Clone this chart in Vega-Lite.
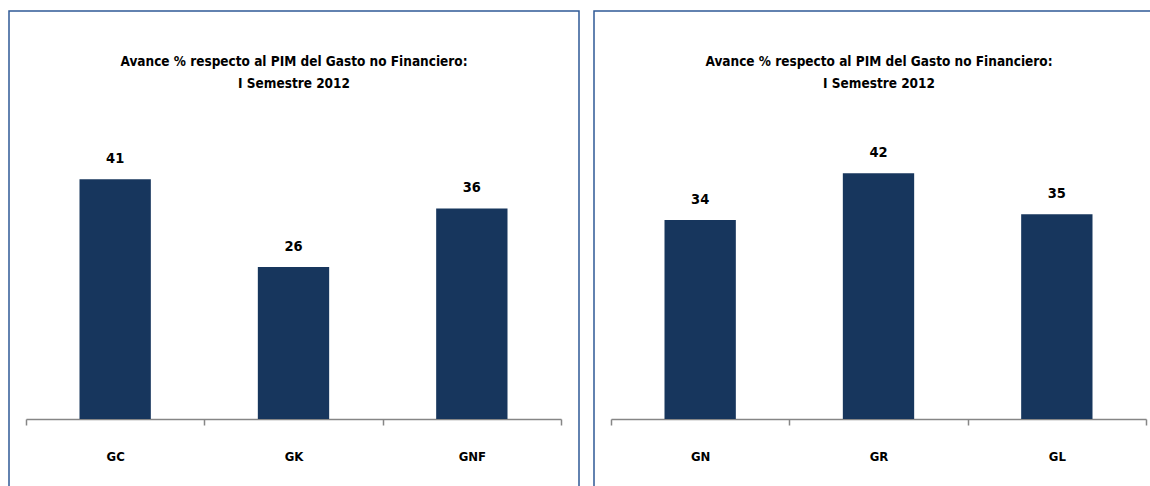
{
  "$schema": "https://vega.github.io/schema/vega-lite/v6.json",
  "padding": {"left": 8, "top": 10, "right": 0, "bottom": 0},
  "background": "white",
  "spacing": 13,
  "datasets": {
    "left": [
      {"grupo": "GC", "avance": 41},
      {"grupo": "GK", "avance": 26},
      {"grupo": "GNF", "avance": 36}
    ],
    "right": [
      {"grupo": "GN", "avance": 34},
      {"grupo": "GR", "avance": 42},
      {"grupo": "GL", "avance": 35}
    ]
  },
  "config": {
    "font": "DejaVu Sans Condensed, sans-serif",
    "view": {"stroke": "#2f5a96", "strokeWidth": 1.5},
    "title": {
      "font": "DejaVu Sans Condensed, sans-serif",
      "fontSize": 13.5,
      "fontWeight": "bold",
      "color": "#000000",
      "anchor": "middle",
      "frame": "group",
      "lineHeight": 22,
      "offset": -79
    },
    "axisX": {
      "title": null,
      "grid": false,
      "orient": "bottom",
      "offset": -92,
      "domainColor": "#868686",
      "domainWidth": 1.5,
      "tickColor": "#868686",
      "tickWidth": 1.5,
      "tickSize": 6,
      "tickBand": "extent",
      "labelAngle": 0,
      "labelFont": "DejaVu Sans Condensed, sans-serif",
      "labelFontSize": 13,
      "labelFontWeight": "bold",
      "labelColor": "#000000",
      "labelPadding": 25
    }
  },
  "hconcat": [
    {
      "width": 570,
      "height": 500,
      "title": {"text": ["Avance % respecto al PIM del Gasto no Financiero:", "I Semestre 2012"]},
      "data": {"name": "left"},
      "encoding": {
        "x": {
          "field": "grupo",
          "type": "nominal",
          "sort": null,
          "scale": {"range": [17, 552], "paddingInner": 0, "paddingOuter": 0}
        },
        "y": {
          "field": "avance",
          "type": "quantitative",
          "scale": {"domain": [-15.73, 69.74], "nice": false, "zero": false},
          "axis": null
        }
      },
      "layer": [
        {"mark": {"type": "bar", "color": "#17365d", "width": {"band": 0.4}}},
        {
          "mark": {"type": "text", "baseline": "bottom", "dy": -13, "fontSize": 14.5, "fontWeight": "bold", "color": "#000000"},
          "encoding": {"text": {"field": "avance", "type": "quantitative"}}
        }
      ]
    },
    {
      "width": 570,
      "height": 500,
      "title": {"text": ["Avance % respecto al PIM del Gasto no Financiero:", "I Semestre 2012"]},
      "data": {"name": "right"},
      "encoding": {
        "x": {
          "field": "grupo",
          "type": "nominal",
          "sort": null,
          "scale": {"range": [17, 552], "paddingInner": 0, "paddingOuter": 0}
        },
        "y": {
          "field": "avance",
          "type": "quantitative",
          "scale": {"domain": [-15.73, 69.74], "nice": false, "zero": false},
          "axis": null
        }
      },
      "layer": [
        {"mark": {"type": "bar", "color": "#17365d", "width": {"band": 0.4}}},
        {
          "mark": {"type": "text", "baseline": "bottom", "dy": -13, "fontSize": 14.5, "fontWeight": "bold", "color": "#000000"},
          "encoding": {"text": {"field": "avance", "type": "quantitative"}}
        }
      ]
    }
  ]
}
